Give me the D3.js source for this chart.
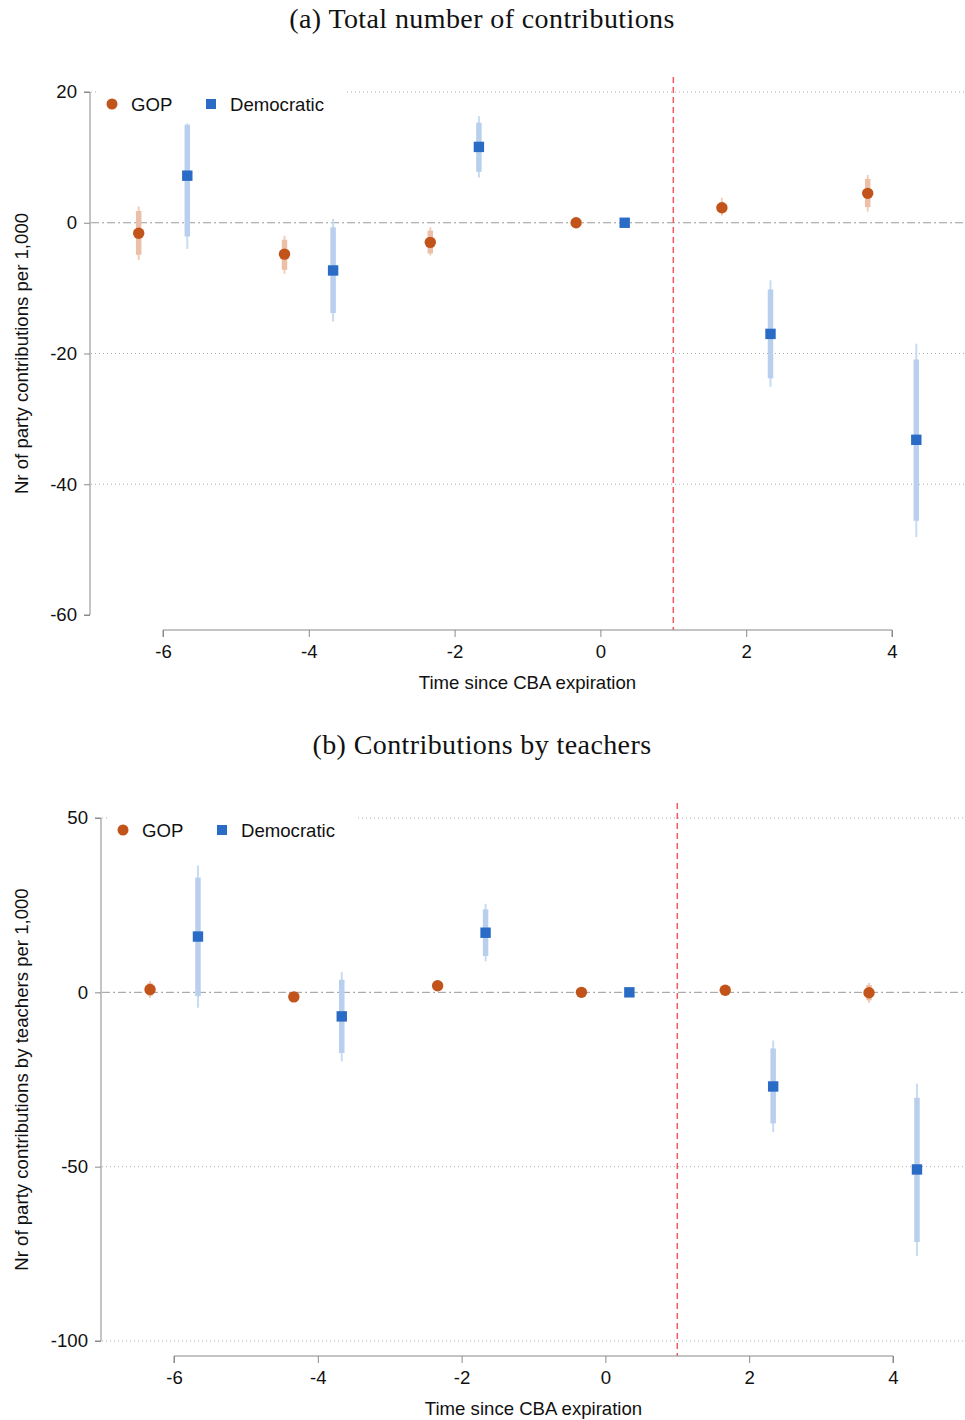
<!DOCTYPE html>
<html>
<head>
<meta charset="utf-8">
<script src="https://cdn.jsdelivr.net/npm/d3@7"></script>
<style>
  html, body { margin: 0; padding: 0; background: #fff; }
  svg { display: block; }
</style>
</head>
<body>
<svg id="chart" width="965" height="1420"></svg>
<script>
// Event time (years relative to CBA expiration)
const periods = [-6, -4, -2, 0, 2, 4];
const xTickValues = [-6, -4, -2, 0, 2, 4];

// Panel (a): total number of contributions per 1,000
const yTicksTotal = [20, 0, -20, -40, -60];
const gopTotal = [-1.6, -4.8, -3.0, 0, 2.3, 4.5];
const gopTotalCI90 = [[-4.9, 1.8], [-7.2, -2.6], [-4.7, -1.2], [0, 0], [1.6, 3.1], [2.4, 6.7]];
const gopTotalCI95 = [[-5.7, 2.5], [-7.8, -2.0], [-5.0, -0.7], [0, 0], [1.1, 3.8], [1.7, 7.3]];
const demTotal = [7.2, -7.3, 11.6, 0, -17.0, -33.2];
const demTotalCI90 = [[-2.1, 15.0], [-13.8, -0.7], [7.8, 15.3], [0, 0], [-23.8, -10.2], [-45.6, -20.9]];
const demTotalCI95 = [[-4.0, 15.2], [-15.1, 0.6], [6.9, 16.3], [0, 0], [-25.1, -8.8], [-48.1, -18.5]];

// Panel (b): contributions by teachers per 1,000
const yTicksTeachers = [50, 0, -50, -100];
const gopTeachers = [0.8, -1.3, 1.9, 0, 0.6, -0.1];
const gopTeachersCI90 = [[-1.0, 2.6], [-2.2, -0.5], [1.2, 2.6], [0, 0], [0.0, 1.2], [-2.3, 2.1]];
const gopTeachersCI95 = [[-1.6, 3.2], [-2.5, -0.2], [1.0, 2.8], [0, 0], [-0.2, 1.4], [-3.0, 2.7]];
const demTeachers = [16.0, -6.9, 17.1, 0, -27.0, -50.8];
const demTeachersCI90 = [[-1.1, 32.9], [-17.4, 3.6], [10.4, 23.8], [0, 0], [-37.6, -16.1], [-71.6, -30.2]];
const demTeachersCI95 = [[-4.4, 36.4], [-19.8, 5.8], [8.9, 25.4], [0, 0], [-40.1, -13.8], [-75.6, -26.2]];

const seriesNames = ["GOP", "Democratic"];
const expirationLine = 1;
const offset = 1 / 3; // horizontal dodge between the two parties

const COL = {
  gop: "#c1531b", gopThin: "#f1cdb9", gopThick: "#ecc0a8",
  dem: "#2a6bc5", demThin: "#c9dbf1", demThick: "#b9cfee",
  axis: "#8a8a8a", grid: "#b0b0b0", zero: "#9a9a9a", red: "#ef5b60"
};
const SANS = "'Liberation Sans', Arial, sans-serif";
const SERIF = "'Liberation Serif', 'DejaVu Serif', serif";
const FS = 18.6;

const svg = d3.select("#chart");

function drawPanel(cfg) {
  const g = svg.append("g");
  const x = d3.scaleLinear().domain([-6, 4]).range([cfg.x0, cfg.x1]);
  const y = d3.scaleLinear().domain(cfg.yDomain).range([cfg.yBottom, cfg.yTop]);

  // title
  g.append("text").attr("x", 482).attr("y", cfg.titleY)
    .attr("text-anchor", "middle").attr("font-family", SERIF)
    .attr("font-size", 28).attr("letter-spacing", 0.4).attr("fill", "#111").text(cfg.title);

  // dotted gridlines (not at 0)
  g.append("g").selectAll("line").data(cfg.gridTicks).join("line")
    .attr("x1", cfg.axisX + 1).attr("x2", cfg.plotRight)
    .attr("y1", d => y(d)).attr("y2", d => y(d))
    .attr("stroke", COL.grid).attr("stroke-width", 1).attr("stroke-dasharray", "1,3");

  // zero reference line
  g.append("line").attr("x1", cfg.axisX + 1).attr("x2", cfg.plotRight)
    .attr("y1", y(0)).attr("y2", y(0))
    .attr("stroke", COL.zero).attr("stroke-width", 1).attr("stroke-dasharray", "8,3,2,3");

  // CBA expiration marker
  g.append("line").attr("x1", x(expirationLine)).attr("x2", x(expirationLine))
    .attr("y1", cfg.yTop - 15).attr("y2", cfg.xAxisY)
    .attr("stroke", COL.red).attr("stroke-width", 1.5).attr("stroke-dasharray", "6,4");

  // y axis
  const yAxis = d3.axisLeft(y).tickValues(cfg.yTicks).tickSize(6).tickPadding(7).tickFormat(d => String(d));
  const ya = g.append("g").attr("transform", `translate(${cfg.axisX},0)`).call(yAxis);
  ya.select(".domain").attr("stroke", COL.axis).attr("d", `M-6,${cfg.yTop}H0V${cfg.yBottom}H-6`);
  ya.selectAll(".tick line").attr("stroke", COL.axis);
  ya.selectAll("text").attr("font-family", SANS).attr("font-size", FS).attr("fill", "#111");

  // x axis
  const xAxis = d3.axisBottom(x).tickValues(xTickValues).tickSize(7).tickPadding(8).tickFormat(d => String(d));
  const xa = g.append("g").attr("transform", `translate(0,${cfg.xAxisY})`).call(xAxis);
  xa.select(".domain").attr("stroke", COL.axis).attr("d", `M${cfg.x0},7V0H${cfg.x1}V7`);
  xa.selectAll(".tick line").attr("stroke", COL.axis);
  xa.selectAll("text").attr("font-family", SANS).attr("font-size", FS).attr("fill", "#111");

  // axis titles
  g.append("text").attr("x", (cfg.x0 + cfg.x1) / 2).attr("y", cfg.xAxisY + 59)
    .attr("text-anchor", "middle").attr("font-family", SANS).attr("font-size", FS)
    .attr("fill", "#111").text("Time since CBA expiration");
  g.append("text")
    .attr("transform", `translate(${cfg.yTitleX},${(cfg.yTop + cfg.yBottom) / 2}) rotate(-90)`)
    .attr("text-anchor", "middle").attr("font-family", SANS).attr("font-size", FS)
    .attr("fill", "#111").text(cfg.yTitle);

  // legend (white box masks the top gridline)
  const lg = g.append("g");
  lg.append("rect").attr("x", cfg.axisX + 6).attr("y", cfg.yTop - 10)
    .attr("width", 248).attr("height", 36).attr("fill", "#fff");
  lg.append("circle").attr("cx", cfg.axisX + 22).attr("cy", cfg.yTop + 12).attr("r", 5.5).attr("fill", COL.gop);
  lg.append("text").attr("x", cfg.axisX + 41).attr("y", cfg.yTop + 19)
    .attr("font-family", SANS).attr("font-size", FS).attr("fill", "#111").text(seriesNames[0]);
  lg.append("rect").attr("x", cfg.axisX + 116).attr("y", cfg.yTop + 7).attr("width", 10).attr("height", 10).attr("fill", COL.dem);
  lg.append("text").attr("x", cfg.axisX + 140).attr("y", cfg.yTop + 19)
    .attr("font-family", SANS).attr("font-size", FS).attr("fill", "#111").text(seriesNames[1]);

  // series: confidence intervals then point estimates
  const gopData = periods.map((t, i) => ({ t: t - offset, v: cfg.gop[i], c90: cfg.gop90[i], c95: cfg.gop95[i] }));
  const demData = periods.map((t, i) => ({ t: t + offset, v: cfg.dem[i], c90: cfg.dem90[i], c95: cfg.dem95[i] }));

  function drawCI(data, thin, thick) {
    const s = g.append("g");
    s.selectAll("line.thin").data(data.filter(d => d.c95[0] !== d.c95[1])).join("line")
      .attr("class", "thin")
      .attr("x1", d => x(d.t)).attr("x2", d => x(d.t))
      .attr("y1", d => y(d.c95[0])).attr("y2", d => y(d.c95[1]))
      .attr("stroke", thin).attr("stroke-width", 2);
    s.selectAll("line.thick").data(data.filter(d => d.c90[0] !== d.c90[1])).join("line")
      .attr("class", "thick")
      .attr("x1", d => x(d.t)).attr("x2", d => x(d.t))
      .attr("y1", d => y(d.c90[0])).attr("y2", d => y(d.c90[1]))
      .attr("stroke", thick).attr("stroke-width", 5.5);
  }
  drawCI(gopData, COL.gopThin, COL.gopThick);
  drawCI(demData, COL.demThin, COL.demThick);

  g.append("g").selectAll("circle").data(gopData).join("circle")
    .attr("cx", d => x(d.t)).attr("cy", d => y(d.v)).attr("r", 5.7).attr("fill", COL.gop);
  g.append("g").selectAll("rect").data(demData).join("rect")
    .attr("x", d => x(d.t) - 5.2).attr("y", d => y(d.v) - 5.2)
    .attr("width", 10.4).attr("height", 10.4).attr("fill", COL.dem);
}

drawPanel({
  title: "(a) Total number of contributions", titleY: 28,
  yTitle: "Nr of party contributions per 1,000", yTitleX: 28,
  yDomain: [-60, 20], yTop: 92, yBottom: 615, yTicks: yTicksTotal,
  gridTicks: [20, -20, -40],
  x0: 163, x1: 892, axisX: 90, xAxisY: 630, plotRight: 964,
  gop: gopTotal, gop90: gopTotalCI90, gop95: gopTotalCI95,
  dem: demTotal, dem90: demTotalCI90, dem95: demTotalCI95
});

drawPanel({
  title: "(b) Contributions by teachers", titleY: 754,
  yTitle: "Nr of party contributions by teachers per 1,000", yTitleX: 28,
  yDomain: [-100, 50], yTop: 818, yBottom: 1341, yTicks: yTicksTeachers,
  gridTicks: [50, -50, -100],
  x0: 174, x1: 893, axisX: 101, xAxisY: 1356, plotRight: 964,
  gop: gopTeachers, gop90: gopTeachersCI90, gop95: gopTeachersCI95,
  dem: demTeachers, dem90: demTeachersCI90, dem95: demTeachersCI95
});
</script>
</body>
</html>
